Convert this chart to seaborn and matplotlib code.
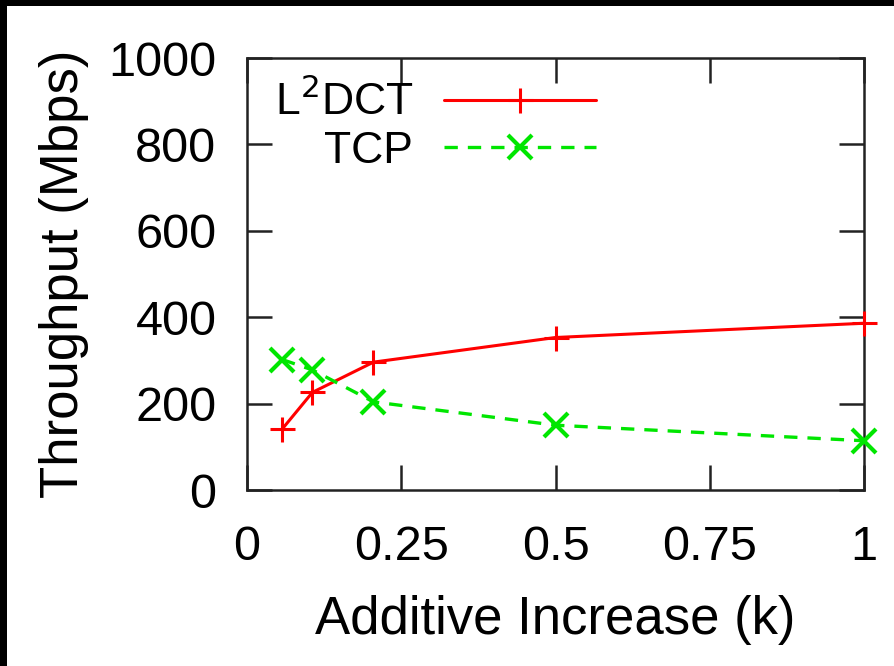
import matplotlib
matplotlib.use("Agg")
import matplotlib.pyplot as plt
import matplotlib.patches as mpatches
import seaborn as sns
import pandas as pd

k_values = [0.057, 0.106, 0.205, 0.5, 1.0]
l2dct_tput = [141, 226, 296, 353, 386]
tcp_tput = [302, 278, 204, 150, 114]
x_ticks = [0, 0.25, 0.5, 0.75, 1]
x_tick_labels = ["0", "0.25", "0.5", "0.75", "1"]
y_ticks = [0, 200, 400, 600, 800, 1000]

sns.set_theme(style="white")
plt.rcParams["font.family"] = ["Liberation Sans", "DejaVu Sans"]
plt.rcParams["text.color"] = "black"

W, H = 894, 666
fig = plt.figure(figsize=(W / 100, H / 100), dpi=100)
fig.patch.set_facecolor("white")
# black border strips at top and left
fig.patches.append(mpatches.Rectangle((0, (H - 6) / H), 1, 6 / H,
                                      transform=fig.transFigure, facecolor="black",
                                      edgecolor="none"))
fig.patches.append(mpatches.Rectangle((0, 0), 7 / W, 1,
                                      transform=fig.transFigure, facecolor="black",
                                      edgecolor="none"))
ax = fig.add_axes([247 / W, (H - 490) / H, (864 - 247) / W, (490 - 58) / H])
ax.set_facecolor("white")

red = "#ff0000"
green = "#00e600"
df1 = pd.DataFrame({"k": k_values, "tput": l2dct_tput})
df2 = pd.DataFrame({"k": k_values, "tput": tcp_tput})
sns.lineplot(data=df1, x="k", y="tput", ax=ax, color=red, lw=2.2,
             marker="+", markersize=18, markeredgewidth=2.2, markeredgecolor=red,
             label="L$^2$DCT", clip_on=False, zorder=3)
sns.lineplot(data=df2, x="k", y="tput", ax=ax, color=green, lw=2.4,
             marker="x", markersize=17, markeredgewidth=3, markeredgecolor=green,
             label="TCP", dashes=(4, 3), clip_on=False, zorder=3)

ax.set_xlim(0, 1)
ax.set_ylim(0, 1000)
ax.set_xticks(x_ticks)
ax.set_xticklabels(x_tick_labels)
ax.set_yticks(y_ticks)
ax.tick_params(axis="both", direction="in", length=18, width=1.8, color="#222222",
               labelsize=35, top=True, right=True, bottom=True, left=True,
               labelcolor="black")
ax.tick_params(axis="x", pad=25)
ax.tick_params(axis="y", pad=22)
for s in ax.spines.values():
    s.set_visible(True)
    s.set_color("#222222")
    s.set_linewidth(1.8)

ax.set_xlabel("Additive Increase (k)", fontsize=38, labelpad=18, color="black")
ax.set_ylabel("Throughput (Mbps)", fontsize=38, labelpad=14, color="black")

leg = ax.legend(loc="upper left", bbox_to_anchor=(0.045, 0.95), frameon=False,
                markerfirst=False, fontsize=32, handlelength=3.4, handletextpad=0.7,
                labelspacing=0.15, borderpad=0, borderaxespad=0)
for t in leg.get_texts():
    t.set_color("black")

fig.savefig("out.png", dpi=100, facecolor=fig.get_facecolor())
